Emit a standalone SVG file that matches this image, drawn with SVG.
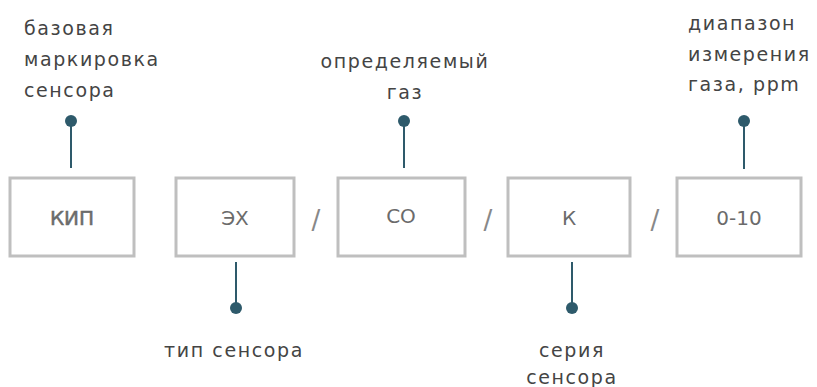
<svg xmlns="http://www.w3.org/2000/svg" width="817" height="387" viewBox="0 0 817 387">
<style>
.box{fill:#fff;stroke:#bfbfbf;stroke-width:3}
.bt{font-family:"DejaVu Sans",sans-serif;font-size:20px;fill:#6b6b6b;text-anchor:middle;dominant-baseline:central}
.lbl{font-family:"DejaVu Sans",sans-serif;font-size:19px;fill:#444;letter-spacing:1.6px}
.sl{font-family:"DejaVu Sans",sans-serif;font-size:26px;fill:#888;text-anchor:middle;dominant-baseline:central}
.ln{stroke:#2e5a6b;stroke-width:2}
.dot{fill:#2e5a6b}
</style>
<rect width="817" height="387" fill="#fff"/>
<g id="connectors">
<line class="ln" x1="71" y1="121" x2="71" y2="168"/><circle class="dot" cx="71" cy="121" r="6"/>
<line class="ln" x1="404" y1="121" x2="404" y2="168"/><circle class="dot" cx="404" cy="121" r="6"/>
<line class="ln" x1="744" y1="121" x2="744" y2="169"/><circle class="dot" cx="744" cy="121" r="6"/>
<line class="ln" x1="236" y1="262" x2="236" y2="308"/><circle class="dot" cx="236" cy="308" r="6"/>
<line class="ln" x1="572" y1="262" x2="572" y2="308"/><circle class="dot" cx="572" cy="308" r="6"/>
</g>
<g id="n-kip"><rect class="box" x="10" y="178" width="124" height="78"/><text class="bt" x="72" y="218" font-size="21" stroke="#6b6b6b" stroke-width="0.5">КИП</text></g>
<g id="n-eh"><rect class="box" x="176" y="178" width="118" height="78"/><text class="bt" x="235" y="218">ЭХ</text></g>
<g id="n-co"><rect class="box" x="338" y="178" width="127" height="78"/><text class="bt" x="401" y="216">CO</text></g>
<g id="n-k"><rect class="box" x="508" y="178" width="122" height="78"/><text class="bt" x="569" y="218">К</text></g>
<g id="n-range"><rect class="box" x="677" y="178" width="124" height="78"/><text class="bt" x="739" y="218">0-10</text></g>
<g id="slashes">
<text class="sl" x="316" y="220">/</text>
<text class="sl" x="488" y="220">/</text>
<text class="sl" x="655" y="220">/</text>
</g>
<g id="l-base"><text class="lbl" x="24"><tspan x="24" y="35">базовая</tspan><tspan x="24" y="66">маркировка</tspan><tspan x="24" y="97">сенсора</tspan></text></g>
<g id="l-gas"><text class="lbl" text-anchor="middle"><tspan x="405" y="68">определяемый</tspan><tspan x="405" y="99">газ</tspan></text></g>
<g id="l-range"><text class="lbl"><tspan x="688" y="30">диапазон</tspan><tspan x="688" y="61">измерения</tspan><tspan x="688" y="91">газа, ppm</tspan></text></g>
<g id="l-type"><text class="lbl" x="234" y="357" text-anchor="middle">тип сенсора</text></g>
<g id="l-series"><text class="lbl" text-anchor="middle"><tspan x="572" y="357">серия</tspan><tspan x="572" y="384">сенсора</tspan></text></g>
</svg>
